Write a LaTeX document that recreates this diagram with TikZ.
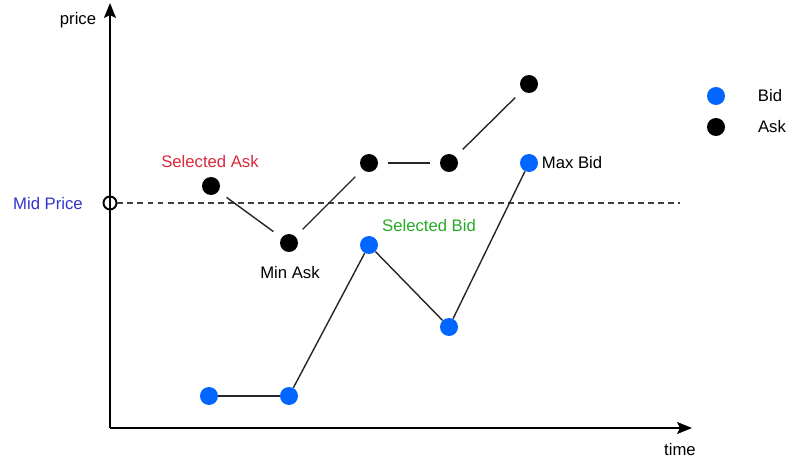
\documentclass[tikz,border=0pt]{standalone}
\usepackage{fontspec}
\setmainfont{Liberation Sans}
\usetikzlibrary{arrows.meta}

\begin{document}
\begin{tikzpicture}[x=0.02cm, y=-0.02cm, font=\fontsize{9.5}{11}\selectfont]

	\tikzstyle{bid} = [circle, fill={rgb,255:red,0;green,102;blue,255}, inner sep=0pt, minimum size=0.36cm]
	\tikzstyle{ask} = [circle, fill=black, inner sep=0pt, minimum size=0.36cm]
	\tikzstyle{bidline} = [line width=0.8pt, black!85]
	\tikzstyle{askline} = [line width=0.8pt, black!85, shorten >=0.2cm, shorten <=0.2cm]
	\tikzstyle{axis} = [-{Stealth[length=0.3cm, width=0.24cm, inset=0.06cm]}, line width=1.1pt]

	\useasboundingbox (0,0) rectangle (788,462);

%------------------------------------------------------------
	\coordinate (o) at (110,428);
	\coordinate (ytop) at (110,3);
	\coordinate (xend) at (692,428);
	\draw[axis] (o) -- (ytop);
	\draw[axis] (o) -- (xend);
	\node (price) at (78,20) {price};
	\node (time) at (680,450) {time};

%------------------------------------------------------------
	\node[circle, draw=black, line width=1.1pt, inner sep=0pt, minimum size=0.26cm] (mid) at (110,203) {};
	\coordinate (midend) at (680,203);
	\node[text={rgb,255:red,51;green,51;blue,204}] (midlabel) at (48,204) {Mid Price};
	\draw[line width=0.85pt, dash pattern=on 3.4pt off 2.3pt, black!75] (mid) -- (midend);

%------------------------------------------------------------
	\node[bid] (b1) at (209,396) {};
	\node[bid] (b2) at (289,396) {};
	\node[bid] (b3) at (369,245) {};
	\node[bid] (b4) at (449,327) {};
	\node[bid] (b5) at (529,163) {};

	\path[bidline] (b1) edge (b2);
	\path[bidline] (b2) edge (b3);
	\path[bidline] (b3) edge (b4);
	\path[bidline] (b4) edge (b5);

%------------------------------------------------------------
	\node[ask] (a1) at (211,186) {};
	\node[ask] (a2) at (289,243) {};
	\node[ask] (a3) at (369,163) {};
	\node[ask] (a4) at (449,163) {};
	\node[ask] (a5) at (529,84) {};

	\path[askline] (a1) edge (a2);
	\path[askline] (a2) edge (a3);
	\path[askline] (a3) edge (a4);
	\path[askline] (a4) edge (a5);

%------------------------------------------------------------
	\node[text={rgb,255:red,220;green,40;blue,60}] (selask) at (210,162) {Selected Ask};
	\node (minask) at (290,273) {Min Ask};
	\node[text={rgb,255:red,40;green,170;blue,40}] (selbid) at (429,226) {Selected Bid};
	\node (maxbid) at (572,163) {Max Bid};

%------------------------------------------------------------
	\node[bid] (legbid) at (716,96) {};
	\node[ask] (legask) at (716,127) {};
	\node (legbidtext) at (770,96) {Bid};
	\node (legasktext) at (772,127) {Ask};

\end{tikzpicture}
\end{document}
